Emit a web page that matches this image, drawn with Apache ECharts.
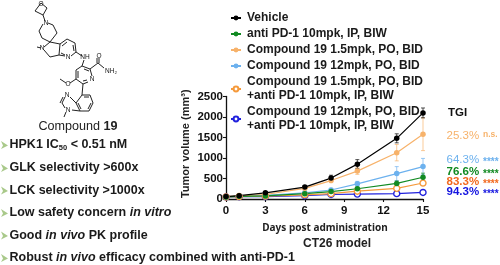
<!DOCTYPE html>
<html><head><meta charset="utf-8">
<style>html,body{margin:0;padding:0;background:#fff}#c{width:500px;height:265px}</style>
<script src="https://cdn.jsdelivr.net/npm/echarts@6/dist/echarts.min.js"></script>
</head><body><div id="c"></div>
<script>
const days=[0,1,3,6,8,10,13,15];
const vehicle=[60,80,150,290,510,850,1480,2100];
const vehicleErr=[10,15,25,40,70,110,110,120];
const antiPD1=[50,65,75,130,180,250,380,530];
const antiPD1Err=[8,10,15,25,30,40,60,100];
const c19Low=[60,75,110,260,450,680,1130,1580];
const c19LowErr=[10,12,20,40,50,80,200,400];
const c19High=[50,70,90,150,220,370,620,790];
const c19HighErr=[8,10,15,30,40,60,170,200];
const comboLow=[50,60,70,100,130,190,260,390];
const comboLowErr=[6,8,10,15,20,25,30,50];
const comboHigh=[50,55,60,80,110,120,130,160];
const comboHighErr=[5,6,8,10,15,20,25,40];
const names=['Vehicle','anti PD-1 10mpk, IP, BIW','Compound 19 1.5mpk, PO, BID','Compound 19 12mpk, PO, BID','Compound 19 1.5mpk, PO, BID\n+anti PD-1 10mpk, IP, BIW','Compound 19 12mpk, PO, BID\n+anti PD-1 10mpk, IP, BIW'];
const colors=['#000000','#118A22','#F7B26A','#6CB1EE','#F59A3C','#2222DD'];
const tgiLabels=['25.3%','64.3%','76.6%','83.3%','94.3%'];
const sigLabels=['n.s.','****','****','****','****'];
const tgiColors=['#F7B26A','#6CB1EE','#118A22','#F2691E','#1414E0'];
const tgiY=[136,160,172,182,192];

const F='"Liberation Sans",Arial,sans-serif';
const groups=[
 {i:5,v:comboHigh,e:comboHighErr,open:true},
 {i:4,v:comboLow,e:comboLowErr,open:true},
 {i:3,v:c19High,e:c19HighErr},
 {i:2,v:c19Low,e:c19LowErr},
 {i:1,v:antiPD1,e:antiPD1Err},
 {i:0,v:vehicle,e:vehicleErr}
];
const series=[];
groups.forEach(g=>{
  const col=colors[g.i];
  series.push({type:'custom',name:'err'+g.i,silent:true,
    data:days.map((d,k)=>[d,g.v[k]-g.e[k],g.v[k]+g.e[k]]),
    encode:{x:0,y:[1,2]},
    renderItem:(p,api)=>{
      const a=api.coord([api.value(0),api.value(1)]),b=api.coord([api.value(0),api.value(2)]);
      const st={stroke:col,lineWidth:0.8,opacity:0.85};
      const l=(x1,y1,x2,y2)=>({type:'line',shape:{x1,y1,x2,y2},style:st});
      return {type:'group',children:[l(a[0],a[1],b[0],b[1]),l(a[0]-2,a[1],a[0]+2,a[1]),l(b[0]-2,b[1],b[0]+2,b[1])]};
    }});
  series.push({type:'line',name:names[g.i],data:days.map((d,k)=>[d,g.v[k]]),
    symbol:'circle',symbolSize:g.open?6:5.5,showSymbol:true,smooth:false,
    lineStyle:{color:col,width:1.2},
    itemStyle:g.open?{color:'#fff',borderColor:col,borderWidth:1.4}:{color:col},
    emphasis:{disabled:true}});
});

// --- illustration: molecule and bullets
const bonds=[
 [[41,3],[35,11],[43,15],[47,8],[41,3]],
 [[43,15],[45,21]],
 [[43,24],[39,31],[42,38],[50,42],[57,33],[53,25],[48,23]],
 [[50,42],[44,47]],[[37,47],[41,48]],[[44,50],[50,57],[59,55],[60,44],[50,42]],
 [[60,44],[67,39],[75,43],[76,52],[71,56]],[[65,56],[59,55]],
 [[62,46],[67,42]],[[73,45],[74,51]],[[61,53],[65,55]],
 [[76,52],[82,56]],[[84,60],[82,66]],
 [[82,66],[90,69],[92,76]],[[88,82],[83,84],[76,79],[76,70],[82,66]],
 [[78,71],[78,78]],[[84,69],[89,71]],[[83,81],[87,80]],
 [[90,69],[98,63],[104,68]],[[97,63],[97,58]],[[99,63],[99,58]],
 [[76,79],[70,83]],[[66,83],[60,79]],
 [[83,84],[82,95]],
 [[82,95],[90,95],[93,103],[89,111],[80,111],[76,103],[82,95]],
 [[84,97],[89,97]],[[91,103],[88,109]],[[78,103],[81,109]],
 [[76,103],[70,97]],[[80,111],[72,110]],[[65,97],[62,103],[65,108]],[[63,97],[60,103]],
 [[66,112],[64,117]]
];
const atoms=[['O',41,4],['N',46,23],['N',42,48],['N',68,57],['NH',85,57],['O',99,56],['NH₂',111,71],['N',92,79],['O',68,84],['N',67,95],['N',68,110]];
const gfx=[];
bonds.forEach(b=>gfx.push({type:'polyline',shape:{points:b},style:{stroke:'#222',lineWidth:1,fill:null}}));
atoms.forEach(a=>gfx.push({type:'text',x:a[1],y:a[2],style:{text:a[0],font:'6.5px '+F,fill:'#111',align:'center',verticalAlign:'middle'}}));
gfx.push({type:'text',x:78,y:127,style:{text:'{a|Compound }{b|19}',align:'center',verticalAlign:'middle',rich:{a:{font:'12.6px '+F,fill:'#222'},b:{font:'bold 12.6px '+F,fill:'#222'}}}});

const R={font:'bold 12.5px '+F,fill:'#1a1a1a'},I={font:'italic bold 12.5px '+F,fill:'#1a1a1a'};
const bullets=[
 [145,'{r|HPK1 IC}{s|50}{r| < 0.51 nM}'],
 [168,'{r|GLK selectivity >600x}'],
 [190.5,'{r|LCK selectivity >1000x}'],
 [213,'{r|Low safety concern }{i|in vitro}'],
 [235.5,'{r|Good }{i|in vivo}{r| PK profile}'],
 [258,'{r|Robust }{i|in vivo}{r| efficacy combined with anti-PD-1}']
];
bullets.forEach(b=>{
  gfx.push({type:'polygon',shape:{points:[[1,b[0]-4],[8,b[0]+0.5],[1,b[0]+4],[3,b[0]+0.5]]},style:{fill:'#A9C98A'}});
  gfx.push({type:'text',x:9.5,y:b[0],style:{text:b[1],align:'left',verticalAlign:'middle',rich:{r:R,i:I,s:{font:'bold 7.5px '+F,fill:'#1a1a1a',verticalAlign:'bottom',padding:[5,0,0,0]}}}});
});
gfx.push({type:'text',x:448,y:113,style:{text:'TGI',font:'bold 11.5px '+F,fill:'#111',verticalAlign:'middle'}});
tgiLabels.forEach((t,i)=>{
  gfx.push({type:'text',x:446.5,y:tgiY[i],style:{text:t,font:(i>=2?'bold ':'')+'11.5px '+F,fill:tgiColors[i],verticalAlign:'middle'}});
  gfx.push({type:'text',x:483,y:tgiY[i]+(i?2:-1),style:{text:sigLabels[i],font:'bold '+(i?10:8.5)+'px '+F,fill:i?tgiColors[i]:'#F7B26A',verticalAlign:'middle'}});
});
gfx.push({type:'text',x:325,y:228,style:{text:'Days post administration',font:'bold 10px "Noto Sans",'+F,fill:'#222',align:'center',verticalAlign:'middle'}});
gfx.push({type:'text',x:337,y:243.5,style:{text:'CT26 model',font:'bold 12px '+F,fill:'#222',align:'center',verticalAlign:'middle'}});

const chart=echarts.init(document.getElementById('c'),null,{renderer:'canvas'});
const axisBase={axisLine:{show:true,onZero:false,lineStyle:{color:'#111',width:1.3}},axisTick:{show:true,length:3,inside:false,lineStyle:{color:'#111',width:1.1}},splitLine:{show:false},axisLabel:{color:'#111',fontFamily:'Liberation Sans',fontWeight:'bold',fontSize:11.5,formatter:v=>String(v)}};
chart.setOption({
  animation:false,backgroundColor:'#fff',
  grid:{left:226,right:77,top:96.5,bottom:66,containLabel:false},
  xAxis:Object.assign({type:'value',min:0,max:15,interval:3},axisBase,{axisLabel:Object.assign({},axisBase.axisLabel,{margin:6})}),
  yAxis:Object.assign({type:'value',min:0,max:2500,interval:500,name:'Tumor volume (mm³)',nameLocation:'middle',nameGap:35,nameTextStyle:{color:'#222',fontFamily:'Liberation Sans',fontWeight:'bold',fontSize:11,padding:[0,0,0,8]}},axisBase,{axisLabel:Object.assign({},axisBase.axisLabel,{margin:3})}),
  legend:{data:names,orient:'vertical',left:225,top:6,itemWidth:10,itemHeight:6,itemGap:2,selectedMode:false,
    textStyle:{fontFamily:'Liberation Sans',fontWeight:'bold',fontSize:12,lineHeight:14,color:'#1a1a1a',padding:[0,0,0,1]}},
  series:series,
  graphic:{elements:gfx}
});
</script></body></html>
